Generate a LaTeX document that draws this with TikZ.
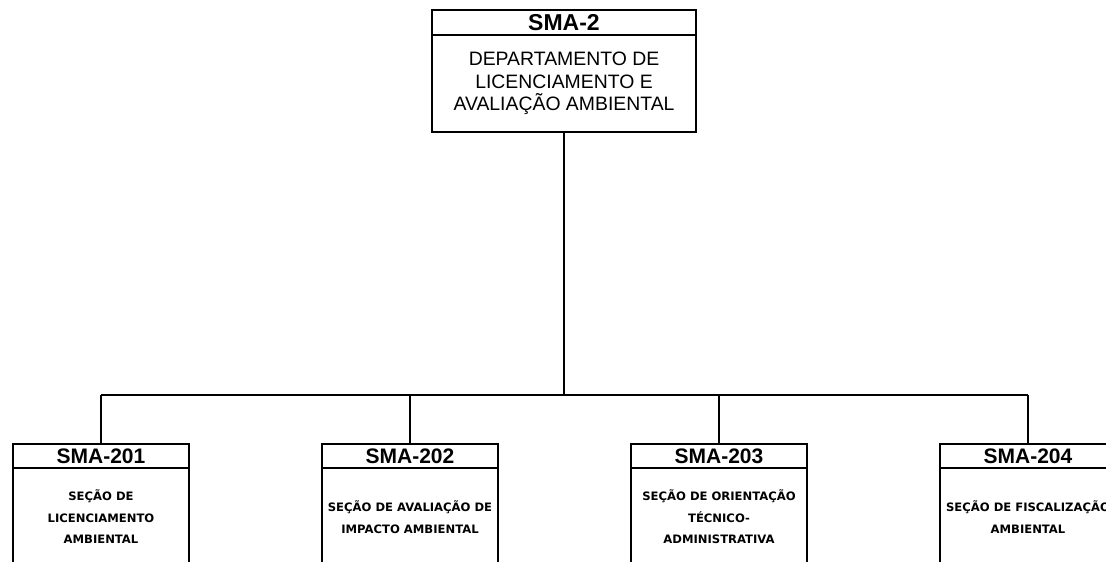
\documentclass[tikz,border=0pt]{standalone}
\usepackage{fontspec}
\newfontfamily\arialf{Liberation Sans}
\newfontfamily\dejaf{DejaVu Sans}
\begin{document}
\begin{tikzpicture}[x=1pt,y=-1pt,
  boxline/.style={draw=black, line width=1.7pt},
  tophead/.style={boxline, rectangle, minimum width=264pt, minimum height=25pt, inner sep=0pt, anchor=north,
     font=\arialf\bfseries\fontsize{23}{23}\selectfont},
  topbody/.style={boxline, rectangle, minimum width=264pt, minimum height=97pt, inner sep=0pt, anchor=north, align=center,
     font=\arialf\fontsize{19.4}{22.5}\selectfont},
  subhead/.style={boxline, rectangle, minimum width=176pt, minimum height=24pt, inner sep=0pt, anchor=north,
     font=\arialf\bfseries\fontsize{21}{21}\selectfont},
  subbody/.style={boxline, rectangle, minimum width=176pt, minimum height=98pt, inner sep=0pt, anchor=north, align=center,
     font=\dejaf\bfseries\fontsize{11.6}{21.7}\selectfont},
  conn/.style={draw=black, line width=1.7pt}
]
\clip (0,0) rectangle (1106,562);
\fill[white] (0,0) rectangle (1106,562);

% top box
\node[tophead] (h0) at (564,9) {SMA-2};
\node[topbody] (b0) at (564,34) {DEPARTAMENTO DE\\LICENCIAMENTO E\\AVALIAÇÃO AMBIENTAL};

% hub coordinates
\coordinate (hub) at (564,395);
\coordinate (j1) at (101,395);
\coordinate (j2) at (410,395);
\coordinate (j3) at (719,395);
\coordinate (j4) at (1028,395);

% sub boxes
\node[subhead] (h1) at (101,443) {SMA-201};
\node[subbody] (b1) at (101,467) {SEÇÃO DE\\LICENCIAMENTO\\AMBIENTAL};
\node[subhead] (h2) at (410,443) {SMA-202};
\node[subbody] (b2) at (410,467) {SEÇÃO DE AVALIAÇÃO DE\\IMPACTO AMBIENTAL};
\node[subhead] (h3) at (719,443) {SMA-203};
\node[subbody] (b3) at (719,467) {SEÇÃO DE ORIENTAÇÃO\\TÉCNICO-\\ADMINISTRATIVA};
\node[subhead] (h4) at (1028,443) {SMA-204};
\node[subbody] (b4) at (1028,467) {SEÇÃO DE FISCALIZAÇÃO\\AMBIENTAL};

% connectors
\draw[conn] (b0.south) -- (hub);
\draw[conn] (j1) -- (j4);
\draw[conn] (j1) -- (h1.north);
\draw[conn] (j2) -- (h2.north);
\draw[conn] (j3) -- (h3.north);
\draw[conn] (j4) -- (h4.north);
\end{tikzpicture}
\end{document}
